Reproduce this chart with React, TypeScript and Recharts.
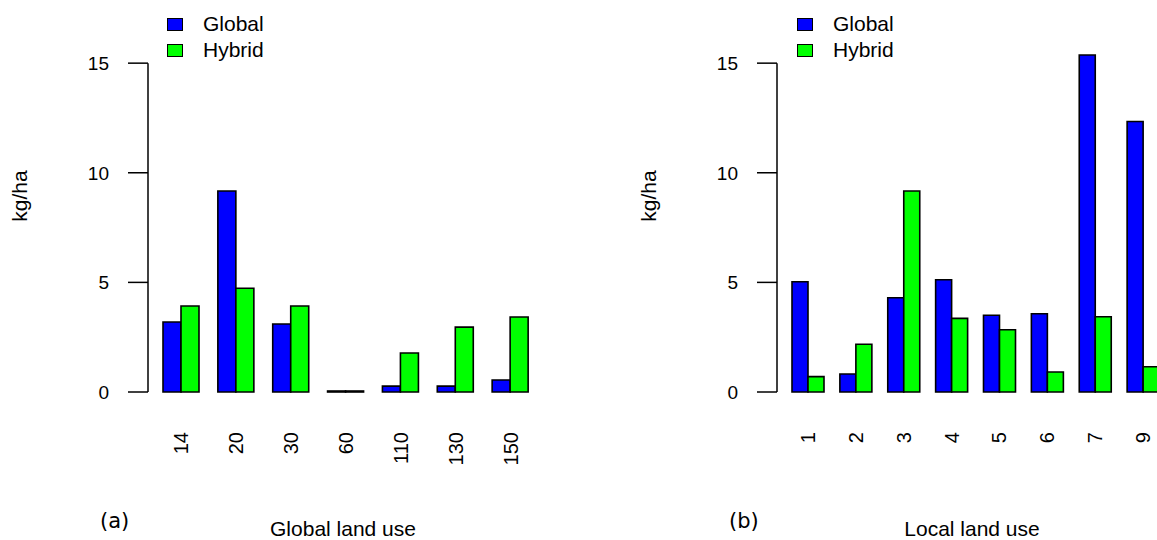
import React from 'react';
import { BarChart, Bar, XAxis, YAxis, Legend, ReferenceLine } from 'recharts';

const globalCats = ['14', '20', '30', '60', '110', '130', '150'];
const globalGlobal = [3.19, 9.17, 3.1, 0, 0.27, 0.27, 0.55];
const globalHybrid = [3.92, 4.73, 3.92, 0, 1.78, 2.96, 3.42];

const localCats = ['1', '2', '3', '4', '5', '6', '7', '9'];
const localGlobal = [5.03, 0.82, 4.3, 5.12, 3.5, 3.57, 15.37, 12.34];
const localHybrid = [0.7, 2.18, 9.17, 3.36, 2.84, 0.91, 3.43, 1.15];

const yTicks = [0, 5, 10, 15];

const FONT = '"Liberation Sans", Arial, Helvetica, sans-serif';

const RotTick = (props: any) => {
  const { x, y, payload } = props;
  return (
    <text
      x={x}
      y={y}
      transform={`rotate(-90 ${x} ${y})`}
      textAnchor="end"
      dominantBaseline="central"
      fontSize={20}
      fontFamily={FONT}
      fill="#000"
    >
      {payload.value}
    </text>
  );
};

const renderLegend = (props: any) => {
  const { payload } = props;
  return (
    <div style={{ fontFamily: FONT, fontSize: 21, color: '#000' }}>
      {payload.map((p: any) => (
        <div key={p.value} style={{ display: 'flex', alignItems: 'center', height: 26 }}>
          <span
            style={{
              display: 'inline-block',
              width: 14,
              height: 11,
              border: '1.5px solid #000',
              background: p.color,
              marginRight: 20,
            }}
          />
          <span>{p.value}</span>
        </div>
      ))}
    </div>
  );
};

interface PanelProps {
  cats: string[];
  glob: number[];
  hyb: number[];
  xTitle: string;
  tag: string;
  left: number;
  width: number;
  axisX: number;
  plotRight: number;
  padLeft: number;
  barSize: number;
  legendX: number;
}

const Panel: React.FC<PanelProps> = ({ cats, glob, hyb, xTitle, tag, left, width, axisX, plotRight, padLeft, barSize, legendX }) => {
  const data = cats.map((c, i) => ({ name: c, Global: glob[i], Hybrid: hyb[i] }));
  return (
    <div style={{ position: 'absolute', left, top: 0, width, height: 540 }}>
      <BarChart
        width={width}
        height={540}
        data={data}
        margin={{ top: 50, right: width - plotRight, bottom: 0, left: axisX - 60 }}
        barGap={0}
        barSize={barSize}
      >
        <XAxis
          dataKey="name"
          type="category"
          padding={{ left: padLeft, right: 0 }}
          axisLine={false}
          tickLine={false}
          tickSize={0}
          tickMargin={40}
          height={148}
          interval={0}
          tick={<RotTick />}
          label={{ value: xTitle, position: 'insideBottom', offset: 4, fontSize: 21, fontFamily: FONT, fill: '#000' }}
        />
        <XAxis xAxisId="edge" type="number" domain={[0, 1]} allowDataOverflow hide />
        <YAxis
          type="number"
          domain={[0, 15.6]}
          ticks={yTicks}
          width={60}
          axisLine={false}
          tickSize={20}
          tickMargin={19}
          tickLine={{ stroke: '#000', strokeWidth: 1.5 }}
          tick={{ fill: '#000', fontSize: 19, fontFamily: FONT }}
        />
        <ReferenceLine
          xAxisId="edge"
          segment={[{ x: 0, y: 0 }, { x: 0, y: 15 }]}
          stroke="#000"
          strokeWidth={1.5}
          ifOverflow="visible"
        />
        <Legend
          layout="vertical"
          align="center"
          verticalAlign="middle"
          wrapperStyle={{ left: legendX, top: 11, width: 'auto' }}
          content={renderLegend}
        />
        <Bar dataKey="Global" fill="#0000ff" stroke="#000" strokeWidth={1.6} minPointSize={1} isAnimationActive={false} />
        <Bar dataKey="Hybrid" fill="#00ff00" stroke="#000" strokeWidth={1.6} minPointSize={1} isAnimationActive={false} />
      </BarChart>
      <div
        style={{
          position: 'absolute',
          left: axisX - 128,
          top: 196,
          transform: 'translate(-50%, -50%) rotate(-90deg)',
          fontFamily: FONT,
          fontSize: 21,
          whiteSpace: 'nowrap',
          color: '#000',
        }}
      >
        kg/ha
      </div>
      <div
        style={{
          position: 'absolute',
          left: axisX - 48,
          top: 509,
          fontFamily: '"DejaVu Sans", Verdana, sans-serif',
          fontSize: 21,
          color: '#000',
        }}
      >
        {tag}
      </div>
    </div>
  );
};

const App: React.FC = () => {
  return (
    <div style={{ position: 'absolute', left: 0, top: 0, width: 1157, height: 540, overflow: 'hidden', background: '#fff' }}>
      <Panel
        cats={globalCats}
        glob={globalGlobal}
        hyb={globalHybrid}
        xTitle="Global land use"
        tag="(a)"
        left={0}
        width={580}
        axisX={148}
        plotRight={538}
        padLeft={6}
        barSize={18}
        legendX={167}
      />
      <Panel
        cats={localCats}
        glob={localGlobal}
        hyb={localHybrid}
        xTitle="Local land use"
        tag="(b)"
        left={580}
        width={600}
        axisX={197}
        plotRight={587}
        padLeft={7}
        barSize={16}
        legendX={217}
      />
    </div>
  );
};

export default App;
